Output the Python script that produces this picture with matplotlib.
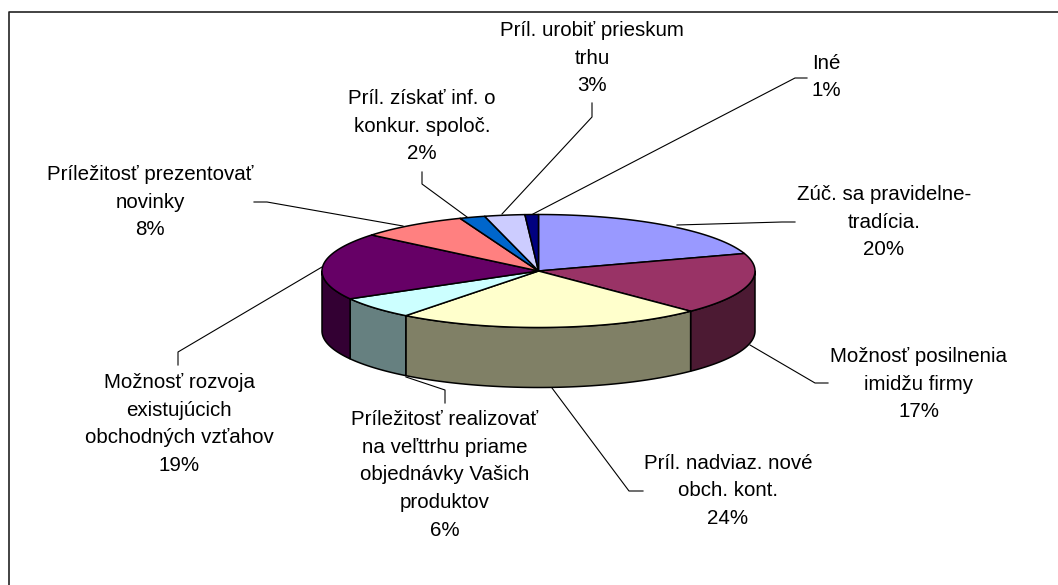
import numpy as np
import matplotlib
matplotlib.use("Agg")
from matplotlib import pyplot as plt
from matplotlib.patches import Polygon

labels = [
    "Zúč. sa pravidelne-\ntradícia.\n20%",
    "Možnosť posilnenia\nimidžu firmy\n17%",
    "Príl. nadviaz. nové\nobch. kont.\n24%",
    "Príležitosť realizovať\nna veľttrhu priame\nobjednávky Vašich\nproduktov\n6%",
    "Možnosť rozvoja\nexistujúcich\nobchodných vzťahov\n19%",
    "Príležitosť prezentovať\nnovinky\n8%",
    "Príl. získať inf. o\nkonkur. spoloč.\n2%",
    "Príl. urobiť prieskum\ntrhu\n3%",
    "Iné\n1%",
]
# slice sizes as measured on the drawn pie, not the rounded label text
values = [20.0, 17.6, 22.9, 6.3, 19.2, 8.1, 1.9, 3.0, 1.0]
top_colors = ["#9999FF", "#993366", "#FFFFCC", "#CCFFFF", "#660066",
              "#FF8080", "#0066CC", "#CCCCFF", "#000080"]
side_colors = ["#4C4C80", "#4C1A33", "#808066", "#668080", "#330033",
               "#804040", "#003366", "#666680", "#000040"]
label_xy = [(884, 222), (919, 384), (728, 491), (445, 475), (179, 424),
            (150, 202), (422, 126), (592, 58), (826, 77)]
leaders = [
    [(677, 225), (782, 222), (795, 222)],
    [(750, 345), (815, 383), (828, 383)],
    [(552, 388), (629, 491), (643, 491)],
    [(406, 377), (445, 390), (445, 403)],
    [(322, 267), (178, 352), (178, 365)],
    [(403, 226), (267, 202), (254, 202)],
    [(467, 217), (422, 184), (422, 172)],
    [(502, 214), (592, 117), (592, 103)],
    [(533, 214), (795, 78), (807, 78)],
]

cx, cy, rx, ry, depth = 538.5, 271, 216.5, 56.5, 60


def ellipse_pts(t):
    # t is the angle clockwise from the top of the pie
    return cx + rx * np.sin(t), cy - ry * np.cos(t)


fig = plt.figure(figsize=(10.58, 5.85), dpi=100)
ax = fig.add_axes([0, 0, 1, 1])
ax.set_xlim(0, 1058)
ax.set_ylim(585, 0)
ax.axis("off")
# chart frame is cut off on the right and at the bottom
ax.plot([9, 9, 1058], [585, 12, 12], color="#222222", lw=1.2)

edges = np.cumsum([0] + values) / sum(values) * 2 * np.pi

# side walls first, only the front half of the rim shows
for i in range(len(values)):
    a, b = max(edges[i], np.pi / 2), min(edges[i + 1], 3 * np.pi / 2)
    if b <= a:
        continue
    t = np.linspace(a, b, 80)
    x, y = ellipse_pts(t)
    pts = np.r_[np.c_[x, y], np.c_[x, y + depth][::-1]]
    ax.add_patch(Polygon(pts, fc=side_colors[i], ec="black", lw=1.1, joinstyle="round"))

for i in range(len(values)):
    t = np.linspace(edges[i], edges[i + 1], 120)
    x, y = ellipse_pts(t)
    pts = np.r_[[[cx, cy]], np.c_[x, y]]
    ax.add_patch(Polygon(pts, fc=top_colors[i], ec="black", lw=1.1, joinstyle="round"))

for pts in leaders:
    xs, ys = zip(*pts)
    ax.plot(xs, ys, color="black", lw=0.8, zorder=1)

for s, (x, y) in zip(labels, label_xy):
    ax.text(x, y, s, ha="center", va="center", fontsize=14.8,
            family="Liberation Sans", linespacing=1.57, color="black")

fig.savefig("out.png", dpi=100)
